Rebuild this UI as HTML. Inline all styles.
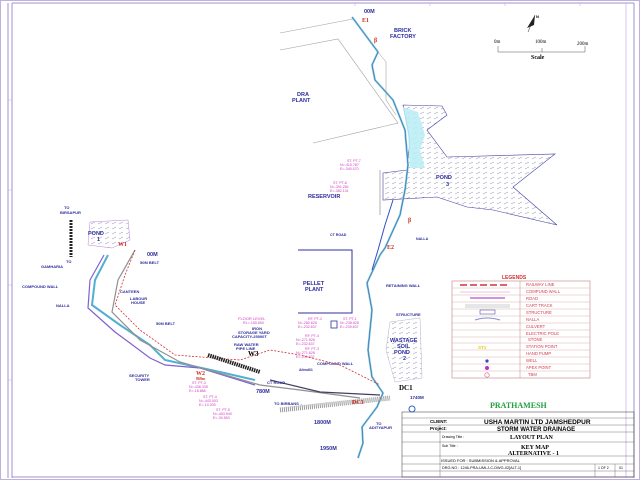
<!DOCTYPE html>
<html><head><meta charset="utf-8"><style>
html,body{margin:0;padding:0;background:#fff;width:640px;height:480px;overflow:hidden}
svg{display:block}
text{font-family:"Liberation Sans",sans-serif;font-weight:bold}
.b{fill:#2c2c9c;font-size:5.5px}
.m{fill:#d040c0;font-size:3.6px;font-weight:normal}
.r{fill:#d03020;font-size:6px;font-family:"Liberation Serif",serif}
.lg{fill:#d04050;font-size:4.2px;font-weight:normal}
</style></head><body>
<svg width="640" height="480" viewBox="0 0 640 480" xmlns="http://www.w3.org/2000/svg">
<defs>
<pattern id="h" width="7" height="5" patternUnits="userSpaceOnUse"><path d="M0 4 L4 2" stroke="#8888b0" stroke-width="0.5"/></pattern>
</defs>
<rect x="0.5" y="0.5" width="639" height="479" fill="none" stroke="#c0b0e0"/>
<line x1="8" y1="3" x2="8" y2="478" stroke="#a090d0" stroke-width="1"/>
<line x1="12" y1="3" x2="12" y2="478" stroke="#a090d0" stroke-width="1"/>
<line x1="12" y1="3" x2="634" y2="3" stroke="#a090d0"/>
<line x1="634" y1="3" x2="634" y2="478" stroke="#a090d0"/>
<line x1="12" y1="477" x2="634" y2="477" stroke="#a090d0"/>
<line x1="626" y1="3" x2="626" y2="478" stroke="#c0a0e0" stroke-width="0.6"/>
<g stroke="#c0a0e0" stroke-width="0.5"><line x1="8" y1="100" x2="12" y2="100"/><line x1="8" y1="190" x2="12" y2="190"/><line x1="8" y1="285" x2="12" y2="285"/><line x1="8" y1="380" x2="12" y2="380"/><line x1="355" y1="3" x2="355" y2="6"/><line x1="430" y1="3" x2="430" y2="6"/><line x1="505" y1="3" x2="505" y2="6"/><line x1="580" y1="3" x2="580" y2="6"/></g>

<polyline points="280,50 338,39 398,123 313,143" fill="none" stroke="#a0a0a0" stroke-width="0.6"/>
<line x1="280" y1="33" x2="353" y2="19" stroke="#a0a0a0" stroke-width="0.6"/>
<text class="b" x="297" y="96">DRA</text><text class="b" x="292" y="102">PLANT</text>

<polygon points="403,105 442,106 447,115 427,130 447,157 555,154 513,187 557,225 493,210 467,207 437,197 383,200 383,173 407,170 410,140" fill="url(#h)" stroke="#4040a0" stroke-width="0.6"/>
<polygon points="403,107 418,112 425,135 420,150 425,168 410,168 408,135" fill="#b8ecf4" opacity="0.85"/>
<text class="b" x="436" y="179">POND</text><text class="b" x="446" y="186">3</text>

<polyline points="352,17 358,25 378,52 372,65 375,80 393,100 405,130 408,165 405,190 400,215 385,248 380,255 367,283 372,310 368,350 372,377 383,393 377,407 362,427 363,443 358,458" fill="none" stroke="#78c4dc" stroke-width="2"/>
<polyline points="352,17 358,25 378,52 372,65 375,80 393,100 405,130 408,165 405,190 400,215 385,248 380,255 367,283 372,310 368,350 372,377 383,393 377,407 362,427 363,443 358,458" fill="none" stroke="#3050a0" stroke-width="0.5"/>
<polyline points="378,52 386,62 386,100 396,115" fill="none" stroke="#909090" stroke-width="0.5"/>
<polyline points="393,200 385,225 378,250 372,270" fill="none" stroke="#3050c0" stroke-width="1"/>

<text class="b" x="364" y="13">00M</text>
<text class="r" x="362" y="22">E1</text>
<text class="b" x="394" y="32">BRICK</text><text class="b" x="390" y="38">FACTORY</text>
<text class="r" x="374" y="42">β</text>
<text class="r" x="408" y="222">β</text>
<text class="r" x="387" y="249">E2</text>
<text class="b" x="330" y="236" style="font-size:3.6px">CT ROAD</text>
<text class="b" x="416" y="240" style="font-size:3.6px">NALLA</text>
<text class="m" x="347" y="162">ST. PT-7</text><text class="m" x="340" y="166">N=-410.787</text><text class="m" x="340" y="170">E=-340.470</text>
<text class="m" x="333" y="184">ST. PT-6</text><text class="m" x="330" y="188">N=-391.281</text><text class="m" x="330" y="192">E=-382.131</text>
<line x1="380" y1="170" x2="380" y2="215" stroke="#606060" stroke-width="0.5"/>
<text class="b" x="308" y="198">RESERVOIR</text>

<text x="494" y="43" style="font-size:5px;font-family:'Liberation Serif',serif;font-weight:normal">0m</text>
<text x="535" y="43" style="font-size:5px;font-family:'Liberation Serif',serif;font-weight:normal">100m</text>
<text x="577" y="45" style="font-size:5px;font-family:'Liberation Serif',serif;font-weight:normal">200m</text>
<polyline points="498,46 498,52 585,52 585,46" fill="none" stroke="#555" stroke-width="0.5"/>
<line x1="542" y1="48" x2="542" y2="52" stroke="#555" stroke-width="0.5"/>
<text x="531" y="59" style="font-size:6px;font-family:'Liberation Serif',serif">Scale</text>
<polygon points="535,15 527,28 534,25" fill="#222"/><line x1="535" y1="15" x2="528" y2="32" stroke="#222" stroke-width="0.5"/>
<text x="536" y="18" style="font-size:4px">N</text>

<polyline points="298,250 352,250 352,313 298,313" fill="none" stroke="#3030a0" stroke-width="1"/>
<text class="b" x="303" y="285">PELLET</text><text class="b" x="305" y="291">PLANT</text>
<text class="b" x="386" y="287" style="font-size:4px">RETAINING WALL</text>
<text class="b" x="396" y="316" style="font-size:4px">STRUCTURE</text>

<polygon points="390,322 420,318 422,378 395,382 386,350" fill="url(#h)" stroke="#a0a0c0" stroke-width="0.4"/>
<text class="b" x="390" y="342">WASTAGE</text><text class="b" x="397" y="348">SOIL</text><text class="b" x="394" y="354">POND</text><text class="b" x="403" y="360">2</text>
<text class="b" x="317" y="365" style="font-size:4px">COMPOUND WALL</text>
<text class="m" x="343" y="320">ST. PT-1</text><text class="m" x="340" y="324">N=-238.626</text><text class="m" x="340" y="328">E=-239.637</text>
<text class="m" x="308" y="320">RF. PT-2</text><text class="m" x="298" y="324">N=-280.626</text><text class="m" x="298" y="328">E=-232.637</text>
<text class="m" x="305" y="337">RF. PT-4</text><text class="m" x="296" y="341">N=-271.626</text><text class="m" x="296" y="345">E=-232.637</text>
<text class="m" x="305" y="350">RF. PT-3</text><text class="m" x="296" y="354">N=-271.626</text><text class="m" x="296" y="358">E=-239.637</text>
<rect x="331" y="321" width="6" height="7" fill="none" stroke="#3030a0" stroke-width="0.8"/>

<polygon points="90,222 128,220 130,240 112,248 88,245" fill="url(#h)" stroke="#c080e0" stroke-width="0.5"/>
<text class="b" x="88" y="235">POND</text><text class="b" x="97" y="241">1</text>
<line x1="71" y1="220" x2="71" y2="257" stroke="#222" stroke-width="3" stroke-dasharray="2,1"/>
<text class="b" x="64" y="209" style="font-size:4px">TO</text><text class="b" x="60" y="214" style="font-size:4px">BIRSAPUR</text>
<text class="b" x="66" y="263" style="font-size:4px">TO</text><text class="b" x="41" y="268" style="font-size:4px">GAMHARIA</text>
<text class="r" x="118" y="246">W1</text>
<text class="b" x="147" y="256">00M</text>
<text class="b" x="140" y="264" style="font-size:4px">50M BELT</text>
<text class="b" x="22" y="288" style="font-size:4px">COMPOUND WALL</text>
<text class="b" x="56" y="307" style="font-size:4px">NALLA</text>
<text class="b" x="120" y="293" style="font-size:4px">CANTEEN</text>
<text class="b" x="130" y="300" style="font-size:4px">LABOUR</text><text class="b" x="131" y="304" style="font-size:4px">HOUSE</text>
<text class="b" x="156" y="325" style="font-size:4px">50M BELT</text>
<text class="b" x="129" y="377" style="font-size:4px">SECURITY</text><text class="b" x="135" y="381" style="font-size:4px">TOWER</text>

<polyline points="108,255 95,280 92,305 120,325 150,345 165,360 220,372 255,380" fill="none" stroke="#50b0d0" stroke-width="2"/>
<polyline points="104,255 90,280 88,308 115,332 150,358 165,365 200,368 255,385" fill="none" stroke="#8060d0" stroke-width="1.2"/>
<polyline points="135,250 118,280 112,312 140,340 180,362 260,385 300,390 360,398" fill="none" stroke="#909090" stroke-width="1.2"/>
<polyline points="135,250 125,275 115,305 140,330 175,355 240,360 270,350 300,355 340,365 380,385" fill="none" stroke="#d03030" stroke-width="0.8" stroke-dasharray="2,1.5"/>
<line x1="208" y1="355" x2="260" y2="372" stroke="#222" stroke-width="4" stroke-dasharray="1.5,0.8"/>
<polyline points="270,380 320,392 380,395" fill="none" stroke="#404060" stroke-width="1.2"/>
<line x1="280" y1="410" x2="390" y2="398" stroke="#999" stroke-width="5" stroke-dasharray="1,1"/>

<text class="m" x="238" y="320" style="font-size:4px">FLOOR LEVEL</text><text class="m" x="243" y="324">RL=-155.800</text>
<text class="b" x="252" y="330" style="font-size:4px">IRON</text>
<text class="b" x="238" y="334" style="font-size:4px">STORAGE YARD</text>
<text class="b" x="232" y="338" style="font-size:4px">CAPACITY-25000T</text>
<text class="b" x="234" y="346" style="font-size:4px">RAW WATER</text><text class="b" x="236" y="350" style="font-size:4px">PIPE LINE</text>
<text x="248" y="356" style="font-size:7px;font-family:'Liberation Serif',serif">W3</text>
<text class="b" x="299" y="371" style="font-size:3.5px">Altmd01</text>
<text class="b" x="267" y="384" style="font-size:4px">CT ROAD</text>
<text class="b" x="256" y="393">780M</text>
<text class="r" x="196" y="375">W2</text><text class="r" x="196" y="380" style="font-size:4px">860m</text>
<text class="m" x="192" y="384">ST. PT-3</text><text class="m" x="189" y="388">N=-436.335</text><text class="m" x="189" y="392">E=-18.888</text>
<text class="m" x="203" y="398">ST. PT-4</text><text class="m" x="199" y="402">N=-443.003</text><text class="m" x="199" y="406">E=-10.205</text>
<text class="m" x="216" y="411">ST. PT-5</text><text class="m" x="213" y="415">N=-453.540</text><text class="m" x="213" y="419">E=-30.553</text>
<text class="b" x="274" y="405" style="font-size:4px">TO BIRBANS→</text>
<text class="b" x="314" y="424">1800M</text>
<text class="b" x="320" y="450">1950M</text>
<text class="b" x="376" y="425" style="font-size:4px">TO</text><text class="b" x="369" y="429" style="font-size:4px">ADITYAPUR</text>
<text x="399" y="390" style="font-size:7px;font-family:'Liberation Serif',serif">DC1</text>
<text class="b" x="410" y="399" style="font-size:4.5px">1740M</text>
<text class="r" x="352" y="404">DC3</text>

<text x="502" y="279" style="font-size:5px;fill:#d03030">LEGENDS</text>
<rect x="452" y="281" width="138" height="97" fill="none" stroke="#c08080" stroke-width="0.6"/>
<line x1="520" y1="281" x2="520" y2="378" stroke="#c08080" stroke-width="0.5"/>
<g stroke="#d0a0a0" stroke-width="0.4">
<line x1="452" y1="288" x2="590" y2="288"/><line x1="452" y1="295" x2="590" y2="295"/><line x1="452" y1="302" x2="590" y2="302"/><line x1="452" y1="309" x2="590" y2="309"/><line x1="452" y1="316" x2="590" y2="316"/><line x1="452" y1="323" x2="590" y2="323"/><line x1="452" y1="330" x2="590" y2="330"/><line x1="452" y1="337" x2="590" y2="337"/><line x1="452" y1="343" x2="590" y2="343"/><line x1="452" y1="350" x2="590" y2="350"/><line x1="452" y1="357" x2="590" y2="357"/><line x1="452" y1="364" x2="590" y2="364"/><line x1="452" y1="371" x2="590" y2="371"/>
</g>
<line x1="460" y1="285" x2="510" y2="285" stroke="#d03040" stroke-width="1.6" stroke-dasharray="7,3"/>
<line x1="460" y1="292" x2="510" y2="292" stroke="#e0b0e0" stroke-width="0.8"/>
<line x1="470" y1="298" x2="505" y2="298" stroke="#c070d0" stroke-width="1.5"/>
<line x1="465" y1="305" x2="510" y2="305" stroke="#999" stroke-width="0.5"/><line x1="465" y1="307" x2="510" y2="307" stroke="#999" stroke-width="0.5"/>
<rect x="480" y="310" width="15" height="4" fill="none" stroke="#3030a0" stroke-width="0.5"/>
<path d="M475 320 Q487 316 500 320" stroke="#8090d0" fill="none"/>
<text class="lg" x="526" y="286">RAILWAY  LINE</text>
<text class="lg" x="526" y="293">COMPUND WALL</text>
<text class="lg" x="526" y="300">ROAD</text>
<text class="lg" x="526" y="307">CART TRACK</text>
<text class="lg" x="526" y="314">STRUCTURE</text>
<text class="lg" x="526" y="321">NALLA</text>
<text class="lg" x="526" y="328">CULVERT</text>
<text class="lg" x="526" y="335">ELECTRIC POLE</text>
<text class="lg" x="528" y="341">STONE</text>
<text class="lg" x="526" y="348">STATION POINT</text>
<text class="lg" x="526" y="355">HAND PUMP</text>
<text class="lg" x="526" y="362">WELL</text>
<text class="lg" x="526" y="369">APEX POINT</text>
<text class="lg" x="528" y="376">TBM</text>
<text x="478" y="349" style="font-size:4.5px;fill:#e0d000">ST1</text>
<circle cx="487" cy="361" r="1.6" fill="#4040c0"/>
<circle cx="487" cy="368" r="2" fill="#c030c0"/>
<circle cx="487" cy="375" r="2.2" fill="none" stroke="#d06080" stroke-width="0.6"/>

<rect x="402" y="412" width="232" height="65" fill="none" stroke="#333" stroke-width="0.5"/>
<text x="490" y="408" style="font-size:8px;fill:#20a040;font-family:'Liberation Serif',serif">PRATHAMESH</text>
<line x1="402" y1="418" x2="634" y2="418" stroke="#555" stroke-width="0.4"/>
<line x1="402" y1="425" x2="634" y2="425" stroke="#555" stroke-width="0.4"/>
<line x1="402" y1="432" x2="634" y2="432" stroke="#555" stroke-width="0.4"/>
<line x1="402" y1="442" x2="634" y2="442" stroke="#555" stroke-width="0.4"/>
<line x1="402" y1="456" x2="634" y2="456" stroke="#555" stroke-width="0.4"/>
<line x1="402" y1="464" x2="634" y2="464" stroke="#555" stroke-width="0.4"/>
<line x1="402" y1="471" x2="634" y2="471" stroke="#555" stroke-width="0.4"/>
<line x1="440" y1="425" x2="440" y2="477" stroke="#555" stroke-width="0.4"/>
<line x1="595" y1="464" x2="595" y2="477" stroke="#555" stroke-width="0.4"/>
<line x1="615" y1="464" x2="615" y2="477" stroke="#555" stroke-width="0.4"/>
<circle cx="412" cy="409" r="3" fill="none" stroke="#3060c0" stroke-width="1"/>
<text x="430" y="423" style="font-size:4.5px">CLIENT:</text>
<text x="430" y="430" style="font-size:4.5px">Project:</text>
<text x="484" y="424" style="font-size:6.5px">USHA MARTIN LTD JAMSHEDPUR</text>
<text x="497" y="431" style="font-size:6px">STORM WATER DRAINAGE</text>
<text x="442" y="438" style="font-size:3.5px;font-weight:normal">Drawing Title :</text>
<text x="510" y="439" style="font-size:6px;font-family:'Liberation Serif',serif">LAYOUT PLAN</text>
<text x="442" y="447" style="font-size:3.5px;font-weight:normal">Sub Title :</text>
<text x="521" y="449" style="font-size:6px;font-family:'Liberation Serif',serif">KEY MAP</text>
<text x="508" y="455" style="font-size:6px;font-family:'Liberation Serif',serif">ALTERNATIVE - 1</text>
<text x="441" y="462" style="font-size:4px;font-weight:normal">ISSUED FOR : SUBMISSION &amp; APPROVAL</text>
<text x="442" y="469" style="font-size:3.8px;font-weight:normal">DRG.NO : 1246-PRA-UMLJ-C-DWG-02[ALT-1]</text>
<text x="598" y="469" style="font-size:3.5px;font-weight:normal">1 OF 2</text>
<text x="619" y="469" style="font-size:3.5px;font-weight:normal">01</text>
</svg>
</body></html>
